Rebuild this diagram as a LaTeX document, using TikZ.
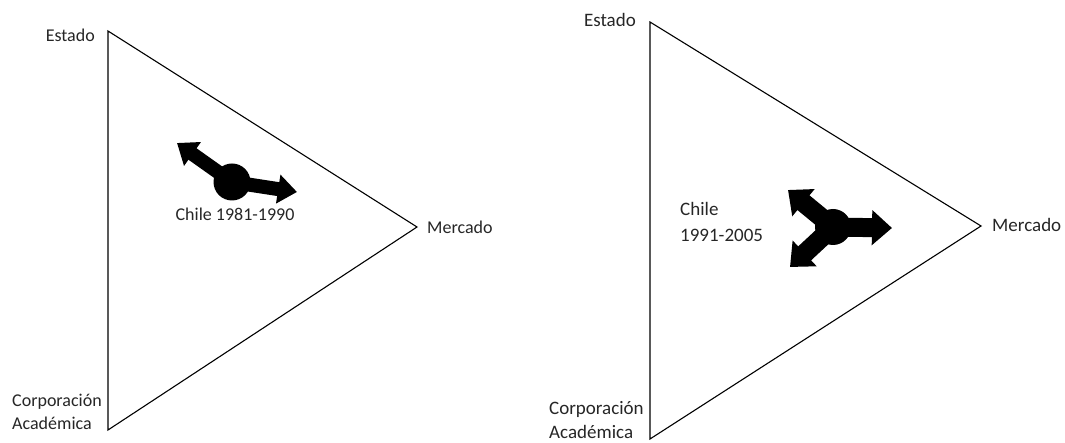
\documentclass[tikz,border=0pt]{standalone}
\usepackage{fontspec}
\setmainfont{Carlito}
\usetikzlibrary{arrows.meta}
\begin{document}
\begin{tikzpicture}[x=1pt,y=-1pt,
  lbl/.style={inner sep=0pt, font=\fontsize{18}{23}\selectfont, text=black!85},
  lblr/.style={inner sep=0pt, font=\fontsize{19}{24}\selectfont, text=black!85},
  tri/.style={draw=black, line width=1.1pt, line join=miter},
  blob/.style={circle, fill=black, minimum size=37pt, inner sep=0pt},
  fat/.style={line width=14pt, -{Triangle[width=28pt,length=19pt]}},
  fatr/.style={line width=19pt, -{Triangle[width=34pt,length=20pt]}}]
\useasboundingbox (0,0) rectangle (1065,443);
% left triangle
\coordinate (T1) at (108,31);
\coordinate (B1) at (108,430);
\coordinate (R1) at (417,227);
\draw[tri] (T1) -- (R1) -- (B1) -- cycle;
\node[lbl, anchor=east] (e1) at (95,35) {Estado};
\node[lbl, anchor=west] (m1) at (427,227) {Mercado};
\node[lbl, anchor=west, align=left] (c1l) at (12,412) {Corporación\\Académica};
\node[blob] (b1) at (232,182) {};
\coordinate (u1) at (177,143);
\coordinate (r1) at (297,192);
\draw[fat] (b1.center) -- (u1);
\draw[fat] (b1.center) -- (r1);
\node[lbl] (ch1) at (235,214) {Chile 1981-1990};
% right triangle
\coordinate (T2) at (650,22);
\coordinate (B2) at (650,439);
\coordinate (R2) at (981,226);
\draw[tri] (T2) -- (R2) -- (B2) -- cycle;
\node[lblr, anchor=east] (e2) at (636,20) {Estado};
\node[lblr, anchor=west] (m2) at (992,225) {Mercado};
\node[lblr, anchor=west, align=left] (c2l) at (549,420) {Corporación\\Académica};
\node[blob, minimum size=36pt] (b2) at (833,227) {};
\coordinate (u2) at (788,190);
\coordinate (d2) at (790,267);
\coordinate (r2) at (892,228);
\draw[fatr] (b2.center) -- (u2);
\draw[fatr] (b2.center) -- (d2);
\draw[fatr] (b2.center) -- (r2);
\node[lblr, anchor=west, align=left] (ch2) at (680,222) {Chile\\[2pt]1991-2005};
\end{tikzpicture}
\end{document}
